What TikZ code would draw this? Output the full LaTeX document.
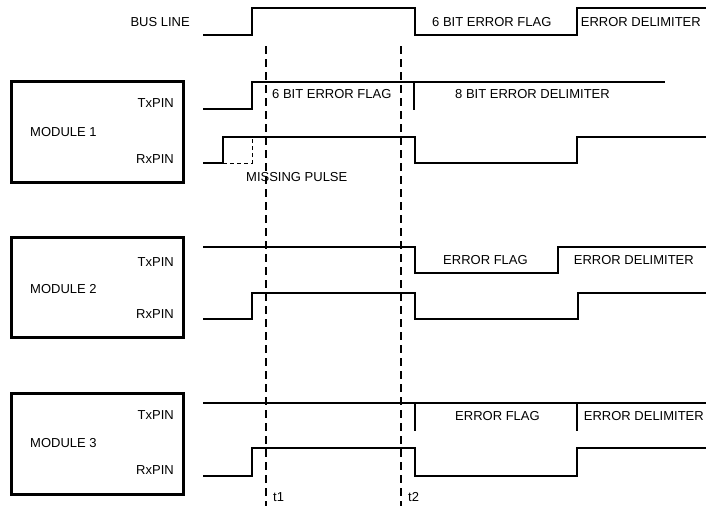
\documentclass[tikz,border=0pt]{standalone}
\usepackage{fontspec}
\setmainfont{Liberation Sans}
\usetikzlibrary{positioning}
\tikzset{
  sig/.style={line width=1.8pt},
  module/.style={draw,line width=3pt,minimum width=172pt,minimum height=101pt,inner sep=0pt},
  lbl/.style={font=\fontsize{13}{15}\selectfont,inner sep=0pt},
  marker/.style={line width=1.1pt,dash pattern=on 8pt off 5pt},
  missing/.style={line width=1pt,dash pattern=on 4pt off 3pt},
}

\begin{document}
\begin{tikzpicture}[x=1pt,y=-1pt]
\useasboundingbox (0,0) rectangle (706,506);
% time markers t1, t2
\foreach \x/\t in {266/t1,401/t2}{
  \draw[marker] (\x,46) -- (\x,506);
  \node[lbl,anchor=west] (\t) at (\x+7,497) {\t};
}

% bus line
\node[lbl,anchor=east] (bus) at (190,22) {BUS LINE};
\draw[sig] (203,35) -- (252,35) -- (252,8) -- (415,8) -- (415,35) -- (577,35) -- (577,8) -- (706,8);
\node[lbl,anchor=west] (busflag) at (432,22) {6 BIT ERROR FLAG};
\node[lbl,anchor=east] (busdelim) at (701,22) {ERROR DELIMITER};

% module 1
\node[module] (m1) at (97.5,132) {};
\node[lbl,anchor=west] (m1name) at (30,132) {MODULE 1};
\node[lbl,anchor=east] (m1tx) at (174,103) {TxPIN};
\node[lbl,anchor=east] (m1rx) at (174,159) {RxPIN};
\draw[sig] (203,109) -- (252,109) -- (252,82) -- (665,82);
\draw[sig] (414,82) -- (414,110);
\draw[sig] (203,163) -- (223,163) -- (223,137) -- (415,137) -- (415,163) -- (577,163) -- (577,137) -- (706,137);
\draw[missing] (223,163) -- (252,163) -- (252,137);
\node[lbl,anchor=west] (m1flag) at (272,94) {6 BIT ERROR FLAG};
\node[lbl,anchor=west] (m1delim) at (455,94) {8 BIT ERROR DELIMITER};
\node[lbl,anchor=west] (m1miss) at (246,177) {MISSING PULSE};

% module 2
\node[module,minimum height=100pt] (m2) at (97.5,287) {};
\node[lbl,anchor=west] (m2name) at (30,289) {MODULE 2};
\node[lbl,anchor=east] (m2tx) at (174,262) {TxPIN};
\node[lbl,anchor=east] (m2rx) at (174,314) {RxPIN};
\draw[sig] (203,247) -- (415,247) -- (415,273) -- (558,273) -- (558,247) -- (706,247);
\draw[sig] (203,319) -- (252,319) -- (252,293) -- (415,293) -- (415,319) -- (578,319) -- (578,293) -- (706,293);
\node[lbl,anchor=west] (m2flag) at (443,260) {ERROR FLAG};
\node[lbl,anchor=east] (m2delim) at (694,260) {ERROR DELIMITER};

% module 3
\node[module] (m3) at (97.5,443.5) {};
\node[lbl,anchor=west] (m3name) at (30,443) {MODULE 3};
\node[lbl,anchor=east] (m3tx) at (174,415) {TxPIN};
\node[lbl,anchor=east] (m3rx) at (174,470) {RxPIN};
\draw[sig] (203,403) -- (706,403);
\draw[sig] (415,403) -- (415,431);
\draw[sig] (577,403) -- (577,431);
\draw[sig] (203,476) -- (252,476) -- (252,448) -- (415,448) -- (415,476) -- (577,476) -- (577,448) -- (706,448);
\node[lbl,anchor=west] (m3flag) at (455,416) {ERROR FLAG};
\node[lbl,anchor=east] (m3delim) at (704,416) {ERROR DELIMITER};
\end{tikzpicture}
\end{document}
